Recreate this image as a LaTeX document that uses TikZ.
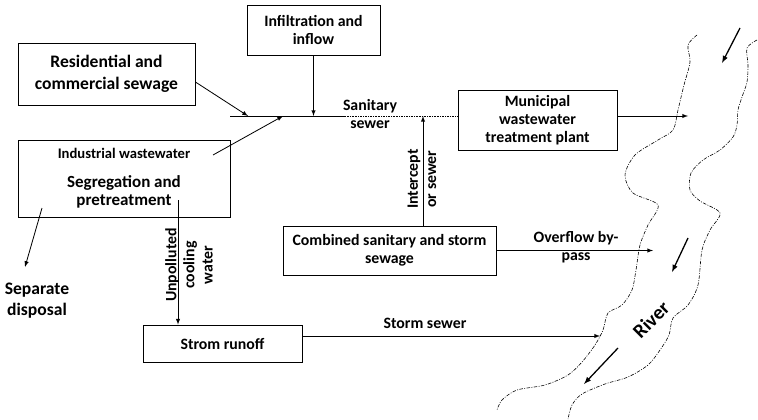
\documentclass[tikz,border=0pt]{standalone}
\usepackage{fontspec}
\setmainfont{Carlito}
\begin{document}
\begin{tikzpicture}[x=0.03cm,y=-0.03cm,
	box/.style={draw,line width=0.7pt,align=center,inner sep=0pt,font=\bfseries\fontsize{13.5}{15.5}\selectfont},
	lbl/.style={align=center,inner sep=0pt,font=\bfseries\fontsize{13.5}{15.5}\selectfont},
	flow/.style={-latex,line width=0.7pt},
	bank/.style={line width=0.5pt,dash pattern=on 3pt off 1.2pt on 0.8pt off 1.2pt}]
	\useasboundingbox (0,0) rectangle (758,419);
	% boxes
	\node[box,minimum width=5.31cm,minimum height=1.86cm,font=\bfseries\fontsize{15}{18.5}\selectfont] (res) at (106.5,74) {Residential and\\commercial sewage};
	\node[box,minimum width=3.99cm,minimum height=1.5cm] (inf) at (313.5,30) {Infiltration and\\inflow};
	\node[box,minimum width=6.36cm,minimum height=2.31cm] (ind) at (124,178.5) {{\fontsize{12.5}{15}\selectfont Industrial wastewater}\\[9pt]{\fontsize{14.5}{17}\selectfont Segregation and}\\{\fontsize{14.5}{17}\selectfont pretreatment}};
	\node[box,minimum width=4.77cm,minimum height=1.8cm] (mun) at (537.5,120) {Municipal\\wastewater\\treatment plant};
	\node[box,minimum width=6.39cm,minimum height=1.47cm] (comb) at (389.5,250.5) {Combined sanitary and storm\\sewage};
	\node[box,minimum width=4.77cm,minimum height=1.11cm] (storm) at (222.5,343.5) {Strom runoff};
	\node[lbl,font=\bfseries\fontsize{15}{18}\selectfont] (sep) at (37,301) {Separate\\disposal};
	% sanitary sewer
	\coordinate (sanL) at (230,116);
	\coordinate (sanM) at (345,116);
	\draw[line width=0.7pt] (sanL) -- (sanM);
	\draw[densely dotted] (sanM) -- (mun.west |- sanM);
	\node[lbl] (sanTxt) at (370,114) {Sanitary\\sewer};
	\coordinate (j1) at (248,116);
	\coordinate (j3) at (283,116);
	\draw[flow] (res.east) ++(0,8) -- (j1);
	\draw[flow] (inf.south) -- (inf.south |- sanL);
	\coordinate (indOut) at (213,155);
	\draw[flow] (indOut) -- (j3);
	% separate disposal
	\coordinate (sepOut) at (42,208);
	\coordinate (sepIn) at (25,267);
	\draw[flow] (sepOut) -- (sepIn);
	% cooling water
	\coordinate (cool) at (178,200);
	\draw[flow] (cool) -- (storm.north -| cool);
	\node[lbl,rotate=90] (coolTxt) at (189,265) {Unpolluted\\cooling\\water};
	% intercept
	\coordinate (icp) at (423,116);
	\draw[flow] (comb.north -| icp) -- (icp);
	\node[lbl,rotate=90] (icpTxt) at (422,179) {Intercept\\or sewer};
	% to river
	\coordinate (munEnd) at (688,116);
	\draw[flow] (mun.east |- munEnd) -- (munEnd);
	\coordinate (ovEnd) at (653,250);
	\draw[flow] (comb.east) -- (comb.east -| ovEnd);
	\node[lbl] (ovTxt) at (576,247) {Overflow by-\\pass};
	\coordinate (stEnd) at (600,336);
	\draw[flow] (storm.east |- stEnd) -- (stEnd);
	\node[lbl] (stTxt) at (425,323) {Storm sewer};
	% river
	\draw[bank] plot[smooth] coordinates {(697,35) (688,45) (690,62) (684,85) (678,110) (673,130) (658,140) (635,155) (625,175) (633,193) (658,205) (648,225) (640,245) (636,270) (632,290) (622,305) (608,313) (603,330) (595,345) (582,362) (568,375) (545,385) (517,390) (502,400) (497,410)};
	\draw[bank] plot[smooth] coordinates {(757,40) (747,48) (748,65) (747,82) (742,97) (738,110) (737,125) (733,137) (720,150) (703,160) (691,173) (690,190) (700,201) (720,213) (710,230) (702,250) (698,285) (688,305) (673,318) (669,335) (660,350) (648,365) (628,377) (605,384) (582,394) (572,405) (568,419)};
	\draw[-latex,line width=1.1pt] (740,28) -- (722,63);
	\draw[-latex,line width=1.1pt] (688,238) -- (672,272);
	\draw[-latex,line width=1.1pt] (618,348) -- (584,384);
	\node[lbl,rotate=45,font=\bfseries\fontsize{17}{20}\selectfont] (river) at (651,320) {River};
\end{tikzpicture}
\end{document}
